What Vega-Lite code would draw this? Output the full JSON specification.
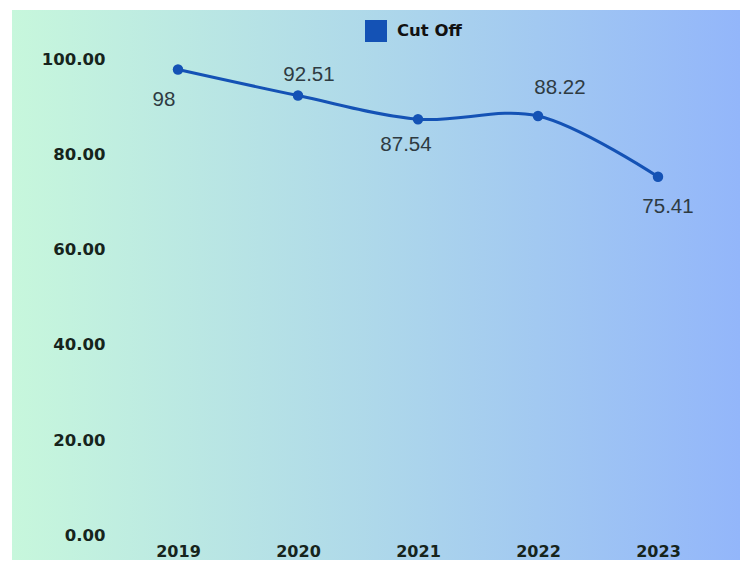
{
  "$schema": "https://vega.github.io/schema/vega-lite/v6.json",
  "width": 728,
  "height": 550,
  "autosize": "none",
  "padding": {"left": 12, "top": 10, "right": 8, "bottom": 3},
  "background": "#ffffff",
  "config": {
    "view": {
      "stroke": null,
      "fill": {
        "gradient": "linear",
        "x1": 0, "y1": 0, "x2": 1, "y2": 0,
        "stops": [
          {"offset": 0, "color": "#c7f7dc"},
          {"offset": 0.5, "color": "#aed8ea"},
          {"offset": 1, "color": "#93b6fa"}
        ]
      }
    }
  },
  "data": {
    "values": [
      {"year": "2019", "value": 98},
      {"year": "2020", "value": 92.51},
      {"year": "2021", "value": 87.54},
      {"year": "2022", "value": 88.22},
      {"year": "2023", "value": 75.41}
    ]
  },
  "encoding": {
    "x": {
      "field": "year",
      "type": "ordinal",
      "scale": {"type": "point", "range": [166, 646], "padding": 0},
      "axis": {
        "orient": "bottom",
        "offset": -17,
        "title": null,
        "labelAngle": 0,
        "ticks": false,
        "tickSize": 0,
        "domain": false,
        "grid": false,
        "labelPadding": 0,
        "labelFont": "DejaVu Sans",
        "labelFontWeight": "bold",
        "labelFontSize": 16,
        "labelColor": "#16241c"
      }
    },
    "y": {
      "field": "value",
      "type": "quantitative",
      "scale": {"domain": [-5.263, 110.526], "nice": false, "zero": false},
      "axis": {
        "orient": "left",
        "offset": -93,
        "title": null,
        "values": [0, 20, 40, 60, 80, 100],
        "format": ".2f",
        "ticks": false,
        "tickSize": 0,
        "domain": false,
        "grid": false,
        "labelPadding": 0,
        "labelFont": "DejaVu Sans",
        "labelFontWeight": "bold",
        "labelFontSize": 16.5,
        "labelColor": "#16241c"
      }
    }
  },
  "layer": [
    {
      "mark": {"type": "line", "interpolate": "catmull-rom", "color": "#1452b5", "strokeWidth": 3}
    },
    {
      "mark": {"type": "point", "filled": true, "size": 110, "opacity": 1},
      "encoding": {
        "color": {
          "datum": "Cut Off",
          "scale": {"range": ["#1452b5"]},
          "legend": {
            "orient": "none",
            "legendX": 353,
            "legendY": 10,
            "title": null,
            "padding": 0,
            "symbolType": "square",
            "symbolSize": 484,
            "symbolStrokeWidth": 0,
            "symbolOpacity": 1,
            "labelOffset": 10,
            "labelFont": "DejaVu Sans",
            "labelFontWeight": "bold",
            "labelFontSize": 16.5,
            "labelColor": "#111111"
          }
        }
      }
    },
    {
      "transform": [{"filter": "datum.year == '2019'"}],
      "mark": {"type": "text", "dx": -14, "dy": 31, "font": "Liberation Sans", "fontSize": 20.5, "color": "#2e3b42", "align": "center", "baseline": "middle"},
      "encoding": {"text": {"field": "value", "type": "quantitative"}}
    },
    {
      "transform": [{"filter": "datum.year == '2020'"}],
      "mark": {"type": "text", "dx": 11, "dy": -21, "font": "Liberation Sans", "fontSize": 20.5, "color": "#2e3b42", "align": "center", "baseline": "middle"},
      "encoding": {"text": {"field": "value", "type": "quantitative"}}
    },
    {
      "transform": [{"filter": "datum.year == '2021'"}],
      "mark": {"type": "text", "dx": -12, "dy": 26, "font": "Liberation Sans", "fontSize": 20.5, "color": "#2e3b42", "align": "center", "baseline": "middle"},
      "encoding": {"text": {"field": "value", "type": "quantitative"}}
    },
    {
      "transform": [{"filter": "datum.year == '2022'"}],
      "mark": {"type": "text", "dx": 22, "dy": -28, "font": "Liberation Sans", "fontSize": 20.5, "color": "#2e3b42", "align": "center", "baseline": "middle"},
      "encoding": {"text": {"field": "value", "type": "quantitative"}}
    },
    {
      "transform": [{"filter": "datum.year == '2023'"}],
      "mark": {"type": "text", "dx": 10, "dy": 30, "font": "Liberation Sans", "fontSize": 20.5, "color": "#2e3b42", "align": "center", "baseline": "middle"},
      "encoding": {"text": {"field": "value", "type": "quantitative"}}
    }
  ]
}
